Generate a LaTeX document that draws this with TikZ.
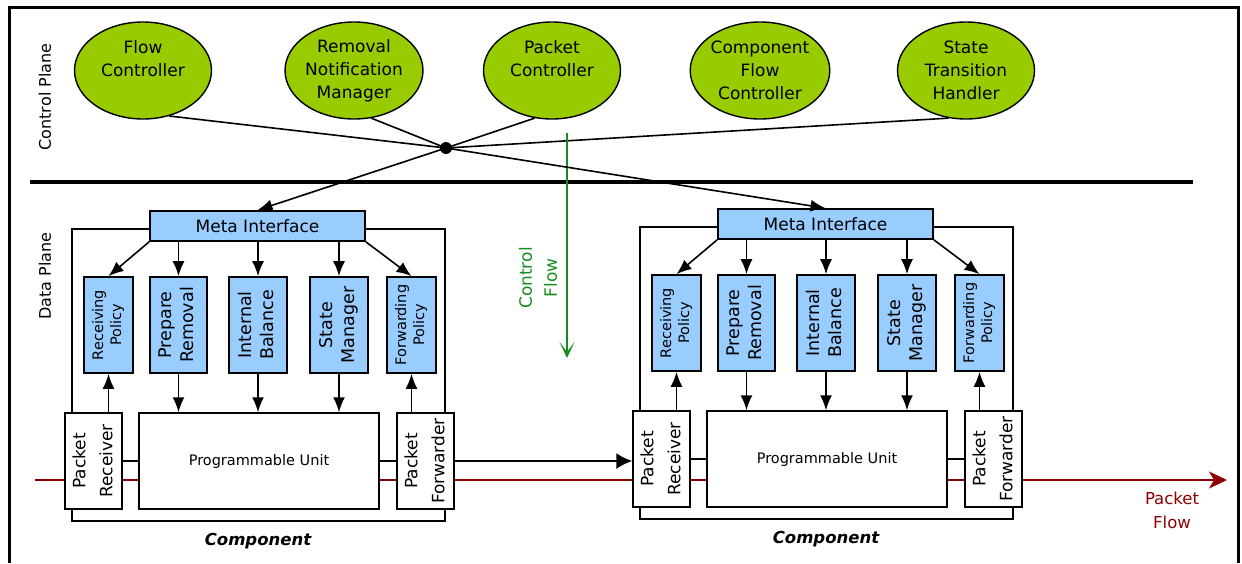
\documentclass[tikz,border=0pt]{standalone}
\usepackage{xcolor}
\usepackage{fontspec}
\setmainfont{DejaVu Sans}
\usetikzlibrary{shapes.geometric,arrows.meta}
\definecolor{ctlgreen}{RGB}{153,204,0}
\definecolor{boxblue}{RGB}{153,204,255}
\definecolor{flowgreen}{RGB}{20,140,30}
\definecolor{flowred}{RGB}{140,0,0}
\newcommand{\vlabel}[1]{\rotatebox{90}{\begin{tabular}{@{}c@{}}#1\end{tabular}}}

\begin{document}
\begin{tikzpicture}[x=1pt,y=-1pt,
		ctl/.style={ellipse,draw,line width=1.4pt,fill=ctlgreen,minimum width=137,minimum height=97,inner sep=0pt,align=center,font=\fontsize{17}{23}\selectfont},
		mibox/.style={draw,line width=1.7pt,fill=boxblue,minimum width=215,minimum height=30,inner sep=0pt,font=\fontsize{17}{20}\selectfont},
		polbox/.style={draw,line width=1.7pt,fill=boxblue,minimum width=58,minimum height=96,inner sep=0pt,font=\fontsize{17.5}{22}\selectfont},
		pktbox/.style={draw,line width=1.5pt,fill=white,minimum width=57,minimum height=96,inner sep=0pt,font=\fontsize{17}{27}\selectfont},
		wire/.style={line width=1.6pt},
		arr/.style={line width=1.6pt,-{Latex[length=15pt,width=12pt]}}]
	\useasboundingbox (0,0) rectangle (1242,563);
	\draw[line width=3pt] (9,563) -- (9,7) -- (1238,7) -- (1238,563);
	\draw[line width=4pt] (30,182) -- (1193,182);
	\node[rotate=90,font=\fontsize{16}{18}\selectfont] (cp) at (45,97) {Control Plane};
	\node[rotate=90,font=\fontsize{16}{18}\selectfont] (dp) at (45,276) {Data Plane};
	\node[ctl] (fc) at (143,70.5) {Flow\\Controller\\~};
	\node[ctl] (rnm) at (354,70.5) {Removal\\Notification\\Manager};
	\node[ctl] (pc) at (552,70.5) {Packet\\Controller\\~};
	\node[ctl] (cfc) at (760,70.5) {Component\\Flow\\Controller};
	\node[ctl] (sth) at (966,70.5) {State\\Transition\\Handler};
	\coordinate (hub) at (446,148);
	\draw[wire] (fc.-60) -- (hub);
	\draw[wire] (rnm.-70) -- (hub);
	\draw[wire] (pc.-110) -- (hub);
	\draw[wire] (sth.-110) -- (hub);
	\fill (hub) circle[radius=6pt];
	\coordinate (cf0) at (567,133);
	\coordinate (cf1) at (567,358);
	\draw[line width=2pt,flowgreen,-{Stealth[length=16pt,width=15pt,inset=10pt]}] (cf0) -- (cf1);
	\node[rotate=90,flowgreen,align=center,font=\fontsize{17}{25}\selectfont] (cfl) at (538,278) {Control\\Flow};
	\coordinate (pf0) at (35,480);
	\coordinate (pf1) at (1227,480);
	\draw[line width=1.7pt,flowred,-{Stealth[length=18pt,width=17pt,inset=5pt]}] (pf0) -- (pf1);
	\node[flowred,align=center,font=\fontsize{16.5}{24}\selectfont] (pfl) at (1172,510) {Packet\\Flow};
	\foreach \c/\dx/\dy in {l/0/0,r/568/-2}{
		\begin{scope}[shift={(\dx,\dy)}]
			\draw[wire] (72,229) rectangle (445,521);
			\node[mibox] (mi\c) at (257.5,226) {Meta Interface};
			\node[polbox,minimum width=49,font=\fontsize{14.5}{18}\selectfont] (rp\c) at (108.5,325) {\vlabel{Receiving\\Policy}};
			\node[polbox,minimum width=57] (pr\c) at (178.5,325) {\vlabel{Prepare\\Removal}};
			\node[polbox] (ib\c) at (258,325) {\vlabel{Internal\\Balance}};
			\node[polbox] (sm\c) at (339,325) {\vlabel{State\\Manager}};
			\node[polbox,minimum width=49,font=\fontsize{14.5}{18}\selectfont] (fp\c) at (411.5,325) {\vlabel{Forwarding\\Policy}};
			\node[pktbox] (rc\c) at (93.5,461) {\vlabel{Packet\\Receiver}};
			\node[pktbox,minimum width=240,font=\fontsize{14.5}{18}\selectfont] (pu\c) at (259,461) {Programmable Unit};
			\node[pktbox] (fw\c) at (425.5,461) {\vlabel{Packet\\Forwarder}};
			\node[font=\fontsize{16.5}{20}\selectfont\bfseries\itshape] (cl\c) at (258,541) {Component};
			\draw[arr] (mi\c.south west) -- (rp\c.north);
			\draw[arr] (mi\c.south -| pr\c.north) -- (pr\c.north);
			\draw[arr] (mi\c.south -| ib\c.north) -- (ib\c.north);
			\draw[arr] (mi\c.south -| sm\c.north) -- (sm\c.north);
			\draw[arr] (mi\c.south east) -- (fp\c.north);
			\draw[arr] (pr\c.south) -- (pr\c.south |- pu\c.north);
			\draw[arr] (ib\c.south) -- (ib\c.south |- pu\c.north);
			\draw[arr] (sm\c.south) -- (sm\c.south |- pu\c.north);
			\draw[arr] (rc\c.north -| rp\c.south) -- (rp\c.south);
			\draw[arr] (fw\c.north -| fp\c.south) -- (fp\c.south);
			\draw[wire] (rc\c.east) -- (pu\c.west);
			\draw[wire] (pu\c.east) -- (fw\c.west);
		\end{scope}
	}
	\draw[arr] (hub) -- (mil.north);
	\draw[arr] (hub) -- (mir.north);
	\draw[line width=1.6pt,-{Latex[length=16pt,width=16pt]}] (fwl.east) -- (fwl.east -| rcr.west);
\end{tikzpicture}
\end{document}
